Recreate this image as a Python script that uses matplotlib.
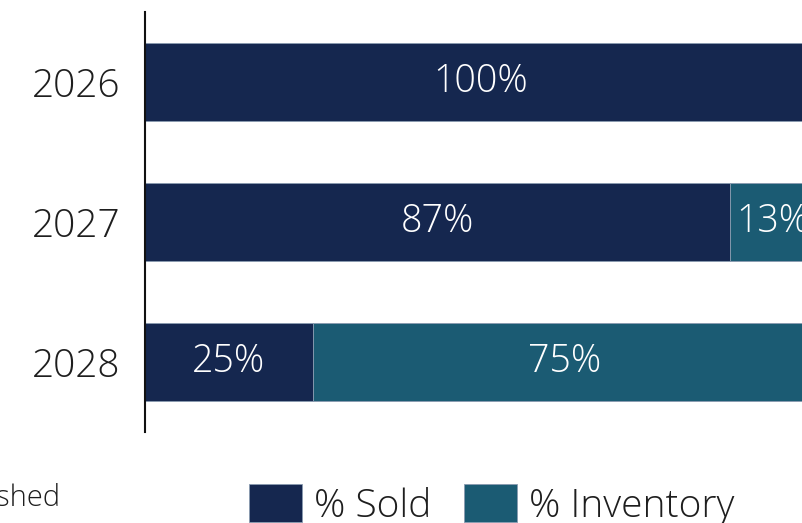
import matplotlib.pyplot as plt
import numpy as np

plt.rcParams['font.family'] = ['Open Sans', 'DejaVu Sans']

years = ['2026', '2027', '2028']
sold = [100, 87, 25]
inventory = [0, 13, 75]

navy = '#15274f'
teal = '#1b5b73'
txt = '#1e1e1e'
fw = 'light'

fig = plt.figure(figsize=(8.02, 5.23), dpi=100)
ax = fig.add_axes([145 / 802, 91 / 523, 672 / 802, 420 / 523])

y = np.arange(len(years))
h = 0.557
b1 = ax.barh(y, sold, height=h, color=navy, edgecolor='#8a9bb0', linewidth=0.6, label='% Sold')
b2 = ax.barh(y, inventory, left=sold, height=h, color=teal, edgecolor='#8a9bb0', linewidth=0.6, label='% Inventory')

for i in range(len(years)):
    if sold[i] > 0:
        ax.text(sold[i] / 2, y[i], f'{sold[i]}%', ha='center', va='center',
                color='white', fontsize=27, fontweight=fw)
    if inventory[i] > 0:
        ax.text(sold[i] + inventory[i] / 2, y[i], f'{inventory[i]}%', ha='center', va='center',
                color='white', fontsize=27, fontweight=fw)

ax.set_xlim(0, 100)
ax.set_ylim(2.5, -0.5)
ax.set_yticks(y)
ax.set_yticklabels(years, fontsize=28, fontweight=fw, color=txt)
ax.tick_params(axis='y', length=0, pad=18)
ax.set_xticks([])
for s in ['top', 'right', 'bottom']:
    ax.spines[s].set_visible(False)
ax.spines['left'].set_linewidth(1.5)
ax.spines['left'].set_color('#111111')

fig.text(60 / 802, 25 / 523, 'Published', ha='right', va='center', fontsize=21,
         fontweight=fw, color=txt)
fig.legend(handles=[b1, b2], loc='center left', bbox_to_anchor=(214 / 802, 18 / 523),
           ncol=2, frameon=False, prop={'weight': fw, 'size': 28}, labelcolor=txt,
           handlelength=1.36, handleheight=1.13, handletextpad=0.3, columnspacing=0.85)

fig.savefig('out.png', dpi=100)
